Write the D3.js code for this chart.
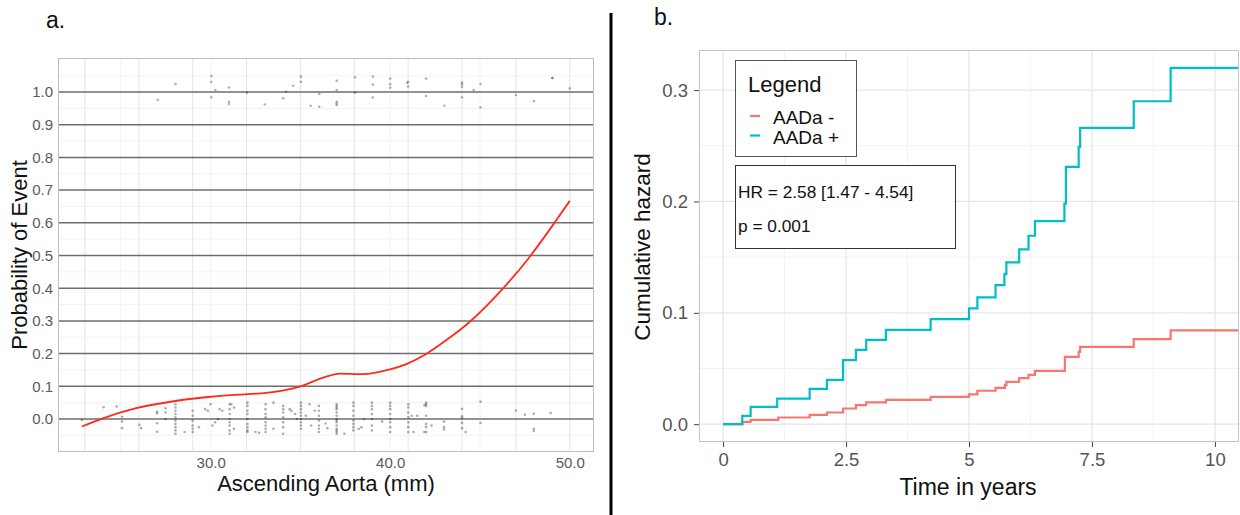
<!DOCTYPE html>
<html><head><meta charset="utf-8">
<script src="https://cdn.jsdelivr.net/npm/d3@7"></script>
<style>body{margin:0;background:#fff}svg{display:block}text{font-family:"Liberation Sans",Arial,sans-serif}</style>
</head><body><svg id="c" width="1240" height="515"></svg>
<script>
// ---------- Panel a data ----------
const aortaTicks = [30, 40, 50];
const aortaTickLabels = ["30.0", "40.0", "50.0"];
const probTicks = [0, 0.1, 0.2, 0.3, 0.4, 0.5, 0.6, 0.7, 0.8, 0.9, 1.0];
const probTickLabels = ["0.0","0.1","0.2","0.3","0.4","0.5","0.6","0.7","0.8","0.9","1.0"];
const probMinor = [-0.05, 0.05, 0.15, 0.25, 0.35, 0.45, 0.55, 0.65, 0.75, 0.85, 0.95, 1.05];
const aortaGridA = [23, 26, 29, 32, 35, 38, 41, 44, 47, 50];
const aortaGridB = [25, 30, 35, 40, 45];
// jittered observations without event [mm, y]
const noEvent = [
 [22.83,-0.003],[24.04,0.036],[24.77,0.038],[25.07,0.007],[25.07,-0.008],[25.07,-0.028],
 [26.03,-0.018],[26.13,-0.028],[27.02,0.022],[27.02,0.017],[27.02,-0.013],[27.02,-0.039],
 [27.49,0.033],[27.49,0.02],[27.49,0.0],
 [28.04,0.045],[28.04,0.035],[28.04,0.025],[28.04,0.015],[28.04,0.005],[28.04,-0.005],[28.04,-0.015],[28.04,-0.025],[28.04,-0.035],[28.04,-0.045],
 [28.55,-0.04],[29.0,0.025],[29.0,0.01],[29.0,-0.005],[29.0,-0.02],[29.0,-0.03],[29.0,-0.04],
 [29.35,-0.025],[29.7,0.03],[29.85,0.025],[30.0,0.045],[30.1,-0.02],[30.25,-0.01],[30.4,0.0],[30.5,0.03],[30.65,0.025],
 [31.06,0.045],[31.06,0.03],[31.06,0.015],[31.06,0.0],[31.06,-0.01],[31.06,-0.02],[31.06,-0.035],[31.06,-0.045],
 [31.15,0.045],[31.3,0.035],[31.3,-0.03],
 [32.05,0.05],[32.05,0.04],[32.05,0.025],[32.05,0.015],[32.05,0.0],[32.05,-0.015],[32.05,-0.025],[32.05,-0.035],[32.05,-0.04],
 [32.5,-0.04],[32.7,-0.042],
 [33.06,0.045],[33.06,0.03],[33.06,0.015],[33.06,0.005],[33.06,-0.01],[33.06,-0.02],[33.06,-0.03],[33.06,-0.04],
 [33.5,0.05],[33.5,-0.03],
 [34.04,0.04],[34.04,0.03],[34.04,0.02],[34.04,0.005],[34.04,-0.01],[34.04,-0.025],[34.04,-0.045],
 [34.4,0.03],[34.5,0.025],[34.7,0.015],[34.8,0.0],
 [35.03,0.05],[35.03,0.04],[35.03,0.03],[35.03,0.02],[35.03,0.01],[35.03,0.0],[35.03,-0.01],[35.03,-0.02],[35.03,-0.03],
 [35.3,0.01],[35.5,0.045],[35.6,-0.02],[35.8,0.025],
 [36.03,0.04],[36.03,0.025],[36.03,0.01],[36.03,-0.005],[36.03,-0.02],[36.03,-0.03],[36.03,-0.04],
 [36.4,-0.014],[36.5,-0.028],
 [37.02,0.045],[37.02,0.04],[37.02,0.035],[37.02,0.03],[37.02,0.02],[37.02,0.01],[37.02,0.0],[37.02,-0.005],[37.02,-0.01],[37.02,-0.02],[37.02,-0.03],[37.02,-0.035],[37.02,-0.04],[37.02,-0.045],
 [37.45,-0.045],
 [37.95,0.05],[37.95,0.04],[37.95,0.025],[37.95,0.01],[37.95,-0.005],[37.95,-0.015],[37.95,-0.025],[37.95,-0.035],
 [38.25,-0.03],[38.4,-0.025],[38.55,0.0],
 [38.98,0.05],[38.98,0.04],[38.98,0.03],[38.98,0.015],[38.98,0.0],[38.98,-0.02],[38.98,-0.035],
 [39.55,-0.008],
 [40.0,0.05],[40.0,0.04],[40.0,0.03],[40.0,0.015],[40.0,0.0],[40.0,-0.01],[40.0,-0.025],[40.0,-0.04],
 [41.01,0.045],[41.01,0.035],[41.01,0.02],[41.01,0.005],[41.01,-0.01],[41.01,-0.025],[41.01,-0.04],
 [41.2,0.01],[41.3,-0.04],[41.5,0.01],
 [42.0,0.045],[42.0,0.05],[42.0,0.04],[42.0,0.01],[42.0,-0.015],[42.0,-0.025],[42.0,-0.04],[41.9,0.042],[41.9,-0.04],
 [42.3,-0.02],[43.0,-0.008],[43.0,-0.025],[43.0,-0.032],
 [44.0,0.031],[44.0,0.008],[44.0,0.003],[44.0,-0.012],[44.0,-0.028],[44.2,-0.04],
 [45.03,0.053],[45.03,-0.012],[47.0,0.026],[47.5,0.013],[48.0,0.016],[48.0,-0.03],[48.0,-0.037],[48.94,0.018]
];
// jittered observations with event [mm, y]
const withEvent = [
 [27.06,0.976],[28.04,1.024],[30.04,1.049],[30.04,1.031],[30.04,0.984],[30.26,1.006],
 [31.02,1.014],[31.02,0.970],[31.02,0.963],[32.03,0.998],[33.02,0.962],[34.04,0.981],[34.2,1.001],
 [34.6,1.019],[35.03,1.047],[35.03,1.031],[35.57,0.958],[36.05,0.994],[36.05,0.955],
 [37.02,1.034],[37.02,1.006],[37.02,0.970],[37.02,0.965],[37.02,0.960],[38.04,1.045],[38.04,0.998],
 [39.03,1.047],[39.03,1.023],[39.03,0.983],[40.0,1.041],[40.0,1.024],[40.0,1.013],
 [41.0,1.031],[40.95,1.028],[41.0,1.017],[42.0,1.041],[42.0,0.988],[43.02,0.958],
 [44.0,1.029],[44.0,1.024],[44.0,1.016],[44.0,0.984],[44.65,1.006],[45.03,1.025],[45.03,0.953],
 [47.0,0.991],[48.0,0.972],[49.03,1.043],[49.03,1.043],[50.0,1.011]
];
// fitted probability curve
const fitX = [22.83, 24.0, 25.85, 28.03, 30.0, 31.9, 33.1, 34.97, 36.27, 37.2, 38.5, 40.0, 40.9, 41.98, 43.15, 44.47, 46.3, 47.7, 49.2, 50.0];
const fitY = [-0.023, 0.002, 0.033, 0.055, 0.068, 0.0755, 0.080, 0.099, 0.1265, 0.139, 0.137, 0.152, 0.168, 0.198, 0.242, 0.299, 0.40, 0.491, 0.604, 0.667];

// ---------- Panel b data ----------
const timeTicks = [0, 2.5, 5, 7.5, 10];
const timeTickLabels = ["0", "2.5", "5", "7.5", "10"];
const timeMinor = [1.25, 3.75, 6.25, 8.75];
const hazTicks = [0, 0.1, 0.2, 0.3];
const hazTickLabels = ["0.0", "0.1", "0.2", "0.3"];
const hazMinor = [0.05, 0.15, 0.25];
const seriesNames = ["AADa -", "AADa +"];
const seriesColors = ["#F8766D", "#00BFC4"];
const posTime = [0, 0.39, 0.56, 1.1, 1.76, 2.11, 2.44, 2.70, 2.91, 3.31, 4.22, 5.0, 5.17, 5.54, 5.72, 5.76, 6.02, 6.21, 6.34, 6.94, 6.97, 7.23, 7.26, 8.35, 9.1, 10.6];
const posHaz  = [0, 0.0075, 0.0156, 0.023, 0.0317, 0.0398, 0.0575, 0.0668, 0.0757, 0.0847, 0.0943, 0.104, 0.1138, 0.1249, 0.1348, 0.1453, 0.157, 0.1692, 0.1824, 0.198, 0.231, 0.249, 0.266, 0.290, 0.320, 0.320];
const negTime = [0, 0.39, 0.56, 1.12, 1.76, 2.11, 2.44, 2.70, 2.91, 3.31, 4.22, 5.0, 5.17, 5.54, 5.73, 5.76, 6.02, 6.21, 6.34, 6.95, 7.23, 7.26, 8.35, 9.1, 10.6];
const negHaz  = [0, 0.002, 0.0039, 0.006, 0.0084, 0.0105, 0.0141, 0.0171, 0.0195, 0.0218, 0.0245, 0.0267, 0.030, 0.0326, 0.035, 0.038, 0.0413, 0.0443, 0.0479, 0.0605, 0.065, 0.0695, 0.0764, 0.0842, 0.0842];
const hrText = "HR = 2.58 [1.47 - 4.54]";
const pText = "p = 0.001";

const svg = d3.select("#c");
const defs = svg.append("defs");

// ================= Panel a =================
const ax = d3.scaleLinear().domain([21.5, 51.35]).range([58, 594]);
const ay = d3.scaleLinear().domain([-0.101, 1.104]).range([452, 58]);
defs.append("clipPath").attr("id","clipA").append("rect")
  .attr("x",58).attr("y",58).attr("width",536).attr("height",394);
const ga = svg.append("g");
ga.selectAll(".hmin").data(probMinor).join("line")
  .attr("x1",58).attr("x2",594).attr("y1",d=>ay(d)).attr("y2",d=>ay(d))
  .attr("stroke","#f0f0f0").attr("stroke-width",0.8);
ga.selectAll(".vb").data(aortaGridB).join("line")
  .attr("y1",58).attr("y2",452).attr("x1",d=>ax(d)).attr("x2",d=>ax(d))
  .attr("stroke","#f0f0f0").attr("stroke-width",0.9);
ga.selectAll(".va").data(aortaGridA).join("line")
  .attr("y1",58).attr("y2",452).attr("x1",d=>ax(d)).attr("x2",d=>ax(d))
  .attr("stroke","#e6e6e6").attr("stroke-width",1.1);
ga.selectAll(".hmaj").data(probTicks).join("line")
  .attr("x1",58).attr("x2",594).attr("y1",d=>ay(d)).attr("y2",d=>ay(d))
  .attr("stroke","#6e6e6e").attr("stroke-width",1.5);
const pts = ga.append("g").attr("clip-path","url(#clipA)");
pts.selectAll(".p0").data(noEvent).join("circle")
  .attr("cx",d=>ax(d[0])).attr("cy",d=>ay(d[1])).attr("r",1.3)
  .attr("fill","#000").attr("fill-opacity",0.32);
pts.selectAll(".p1").data(withEvent).join("circle")
  .attr("cx",d=>ax(d[0])).attr("cy",d=>ay(d[1])).attr("r",1.3)
  .attr("fill","#000").attr("fill-opacity",0.3);
pts.append("path").datum(fitX.map((x,i)=>[x,fitY[i]]))
  .attr("d", d3.line().x(d=>ax(d[0])).y(d=>ay(d[1])).curve(d3.curveMonotoneX))
  .attr("fill","none").attr("stroke","#ff2a1a").attr("stroke-width",1.8);
ga.append("rect").attr("x",58.5).attr("y",58.5).attr("width",535).attr("height",393)
  .attr("fill","none").attr("stroke","#bdbdbd").attr("stroke-width",1);
// axes
const axA = ga.append("g").attr("transform","translate(0,452)")
  .call(d3.axisBottom(ax).tickValues(aortaTicks).tickSize(0).tickPadding(5)
    .tickFormat((d,i)=>aortaTickLabels[i]));
axA.select(".domain").remove();
axA.selectAll("text").attr("font-size",15).attr("fill","#5a5a5a").attr("font-family","Liberation Sans, Arial, sans-serif");
const ayA = ga.append("g").attr("transform","translate(58,0)")
  .call(d3.axisLeft(ay).tickValues(probTicks).tickSize(0).tickPadding(5)
    .tickFormat((d,i)=>probTickLabels[i]));
ayA.select(".domain").remove();
ayA.selectAll("text").attr("font-size",15).attr("fill","#5a5a5a").attr("font-family","Liberation Sans, Arial, sans-serif");
svg.append("text").attr("x",326).attr("y",491).attr("text-anchor","middle")
  .attr("font-size",22).attr("fill","#111").text("Ascending Aorta (mm)");
svg.append("text").attr("transform","translate(27,255) rotate(-90)").attr("text-anchor","middle")
  .attr("font-size",22).attr("fill","#111").text("Probability of Event");
svg.append("text").attr("x",46).attr("y",28).attr("font-size",23).attr("fill","#111").text("a.");

// separator
svg.append("line").attr("x1",611).attr("x2",611).attr("y1",13).attr("y2",515)
  .attr("stroke","#000").attr("stroke-width",3);

// ================= Panel b =================
const bx = d3.scaleLinear().domain([-0.49, 10.49]).range([699, 1239]);
const by = d3.scaleLinear().domain([-0.016, 0.336]).range([442, 50]);
defs.append("clipPath").attr("id","clipB").append("rect")
  .attr("x",699).attr("y",50).attr("width",540).attr("height",392);
const gb = svg.append("g");
gb.selectAll(".hm").data(hazMinor).join("line")
  .attr("x1",699).attr("x2",1239).attr("y1",d=>by(d)).attr("y2",d=>by(d))
  .attr("stroke","#f2f2f2").attr("stroke-width",1);
gb.selectAll(".vm").data(timeMinor).join("line")
  .attr("y1",50).attr("y2",442).attr("x1",d=>bx(d)).attr("x2",d=>bx(d))
  .attr("stroke","#f2f2f2").attr("stroke-width",1);
gb.selectAll(".hM").data(hazTicks).join("line")
  .attr("x1",699).attr("x2",1239).attr("y1",d=>by(d)).attr("y2",d=>by(d))
  .attr("stroke","#e6e6e6").attr("stroke-width",1.3);
gb.selectAll(".vM").data(timeTicks).join("line")
  .attr("y1",50).attr("y2",442).attr("x1",d=>bx(d)).attr("x2",d=>bx(d))
  .attr("stroke","#e6e6e6").attr("stroke-width",1.3);
const curves = gb.append("g").attr("clip-path","url(#clipB)");
const stepLine = d3.line().x(d=>bx(d[0])).y(d=>by(d[1])).curve(d3.curveStepAfter);
curves.append("path").datum(negTime.map((t,i)=>[t,negHaz[i]]))
  .attr("d",stepLine).attr("fill","none").attr("stroke",seriesColors[0]).attr("stroke-width",2.2);
curves.append("path").datum(posTime.map((t,i)=>[t,posHaz[i]]))
  .attr("d",stepLine).attr("fill","none").attr("stroke",seriesColors[1]).attr("stroke-width",2.2);
gb.append("rect").attr("x",699.5).attr("y",50.5).attr("width",539).attr("height",391)
  .attr("fill","none").attr("stroke","#c4c4c4").attr("stroke-width",1);
const axB = gb.append("g").attr("transform","translate(0,442)")
  .call(d3.axisBottom(bx).tickValues(timeTicks).tickSize(5).tickPadding(6)
    .tickFormat((d,i)=>timeTickLabels[i]));
axB.select(".domain").remove();
axB.selectAll("line").attr("stroke","#444");
axB.selectAll("text").attr("font-size",18.5).attr("fill","#555").attr("font-family","Liberation Sans, Arial, sans-serif");
const ayB = gb.append("g").attr("transform","translate(699,0)")
  .call(d3.axisLeft(by).tickValues(hazTicks).tickSize(5).tickPadding(6)
    .tickFormat((d,i)=>hazTickLabels[i]));
ayB.select(".domain").remove();
ayB.selectAll("line").attr("stroke","#444");
ayB.selectAll("text").attr("font-size",18.5).attr("fill","#555").attr("font-family","Liberation Sans, Arial, sans-serif");
svg.append("text").attr("x",968).attr("y",495).attr("text-anchor","middle")
  .attr("font-size",23).attr("fill","#111").text("Time in years");
svg.append("text").attr("transform","translate(650,247) rotate(-90)").attr("text-anchor","middle")
  .attr("font-size",22.5).attr("fill","#111").text("Cumulative hazard");
svg.append("text").attr("x",654).attr("y",25).attr("font-size",23).attr("fill","#111").text("b.");

// legend
const lg = svg.append("g");
lg.append("rect").attr("x",735.5).attr("y",60.5).attr("width",121).attr("height",96)
  .attr("fill","#fff").attr("stroke","#555").attr("stroke-width",1);
lg.append("text").attr("x",748).attr("y",92).attr("font-size",22).attr("fill","#111").text("Legend");
seriesNames.forEach((n,i)=>{
  const yy = 124 + i*19.5;
  lg.append("line").attr("x1",750).attr("x2",760).attr("y1",yy-8).attr("y2",yy-8)
    .attr("stroke",seriesColors[i]).attr("stroke-width",2.2);
  lg.append("text").attr("x",773).attr("y",yy).attr("font-size",19).attr("fill","#111").text(n);
});
// HR box
const hb = svg.append("g");
hb.append("rect").attr("x",735.5).attr("y",165.5).attr("width",220).attr("height",83)
  .attr("fill","#fff").attr("stroke","#333").attr("stroke-width",1);
hb.append("text").attr("x",738).attr("y",198).attr("font-size",17.3).attr("fill","#111").text(hrText);
hb.append("text").attr("x",738).attr("y",232).attr("font-size",17.3).attr("fill","#111").text(pText);
</script>
</body></html>
